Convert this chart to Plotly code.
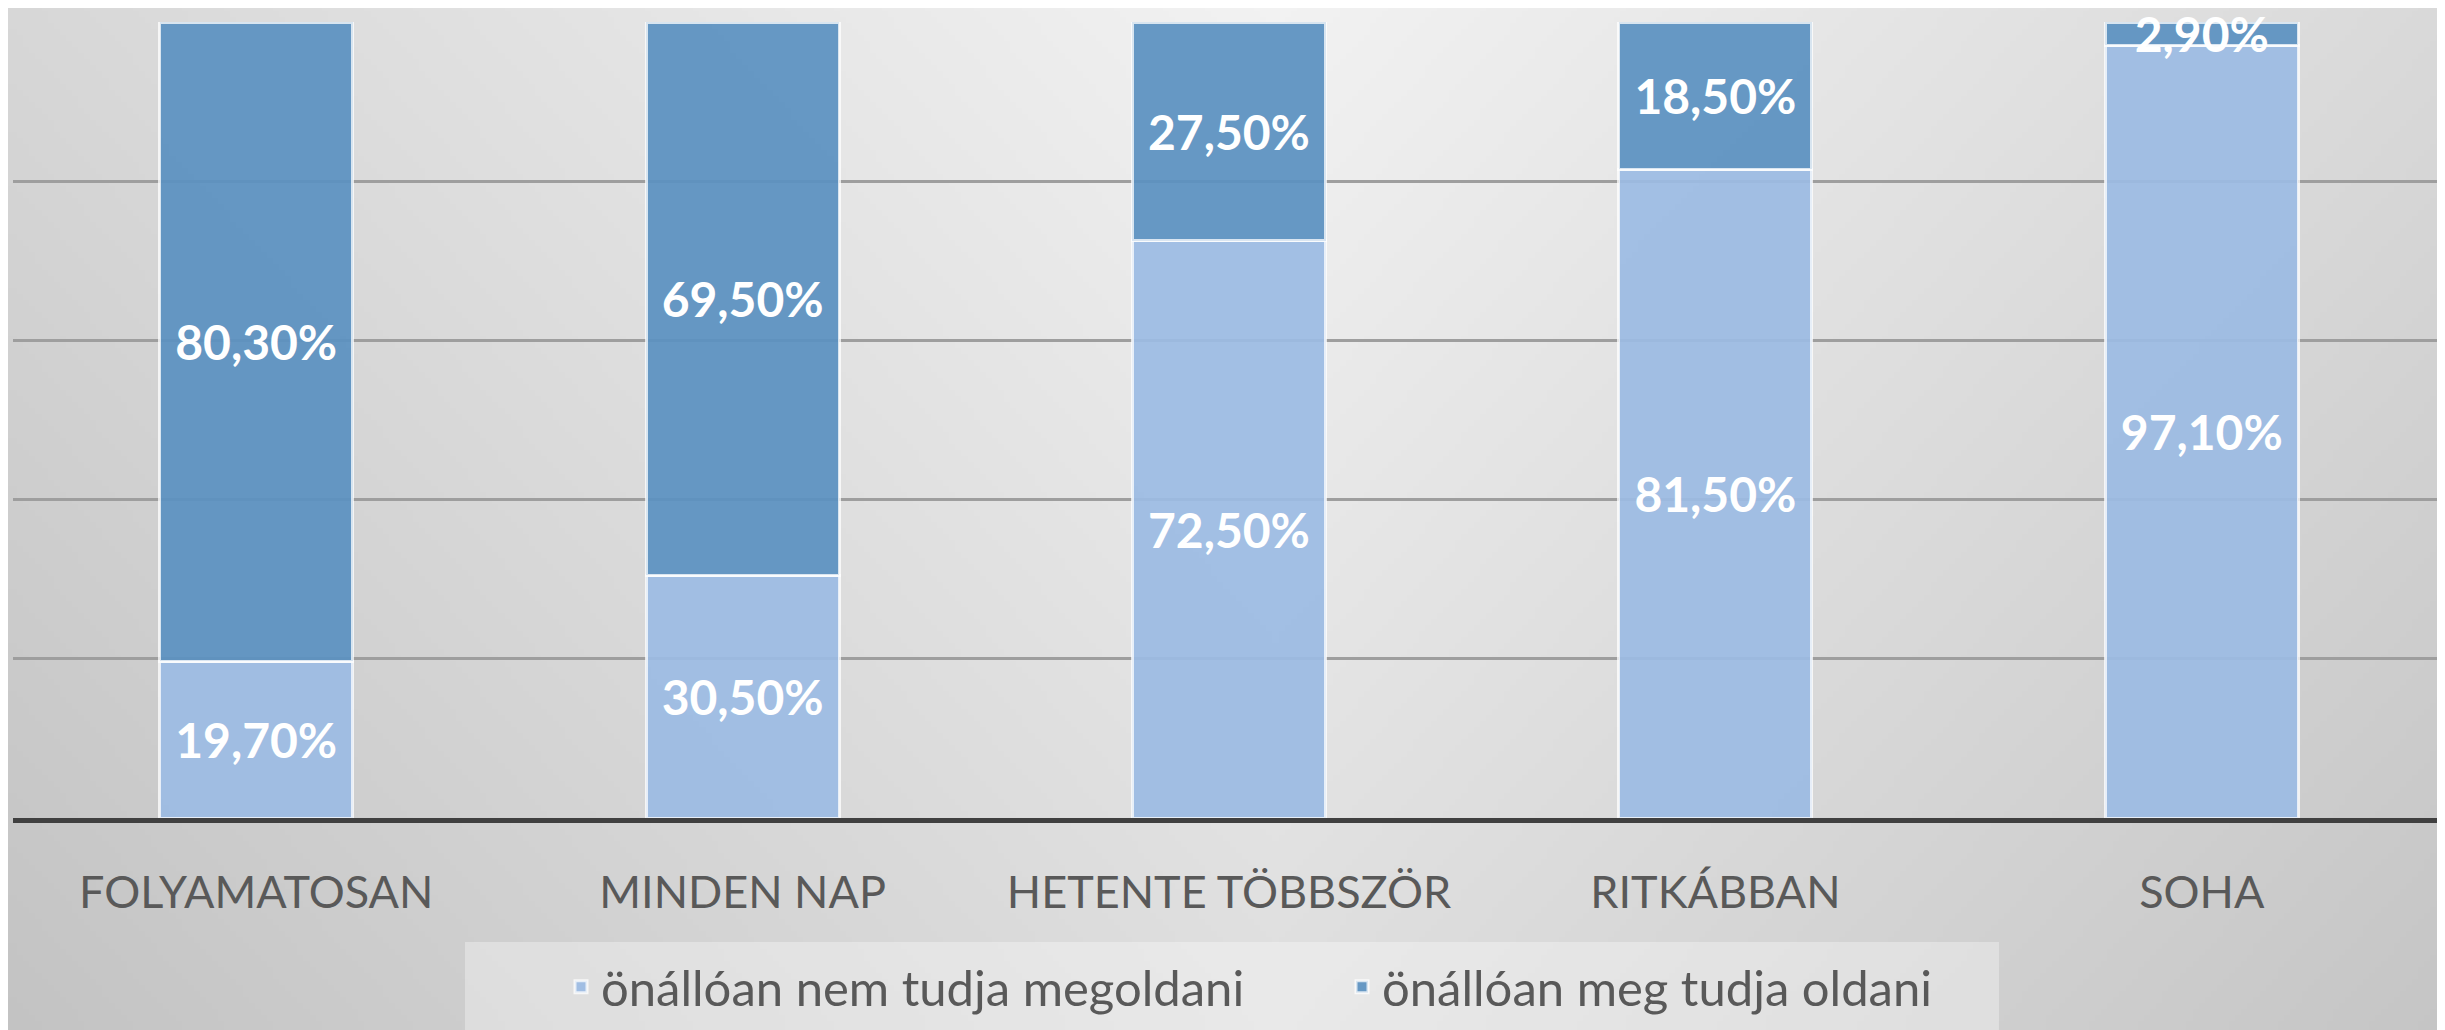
import zlib, struct, base64
import plotly.graph_objects as go

# ---- data ----
categories = ["FOLYAMATOSAN", "MINDEN NAP", "HETENTE TÖBBSZÖR", "RITKÁBBAN", "SOHA"]
nem_tudja = [19.7, 30.5, 72.5, 81.5, 97.1]
meg_tudja = [80.3, 69.5, 27.5, 18.5, 2.9]
series_names = ["önállóan nem tudja megoldani", "önállóan meg tudja oldani"]


def fmt(v):
    return f"{v:.2f}%".replace(".", ",")


# ---- background gradient (pure python png) ----
def make_png(w, h, func):
    rows = []
    for y in range(h):
        rows.append(b"\x00" + bytes(func(x, y) for x in range(w)))
    raw = b"".join(rows)

    def chunk(t, d):
        c = struct.pack(">I", len(d)) + t + d
        return c + struct.pack(">I", zlib.crc32(t + d) & 0xFFFFFFFF)

    png = (b"\x89PNG\r\n\x1a\n"
           + chunk(b"IHDR", struct.pack(">IIBBBBB", w, h, 8, 0, 0, 0, 0))
           + chunk(b"IDAT", zlib.compress(raw, 9))
           + chunk(b"IEND", b""))
    return "data:image/png;base64," + base64.b64encode(png).decode()


GW, GH = 400, 170


def grad(x, y):
    u = x / (GW - 1)
    v = y / (GH - 1)
    c = 242 - 52 * abs(u - 0.52) - 20 * v
    return max(0, min(255, int(round(c))))


bg_src = make_png(GW, GH, grad)

# page body adds an 8px offset; figure sized to fill the rest of the window
W, H = 2437, 1022
ML, MR, MT, MB = 5, 0, 14, 212
PW, PH = W - ML - MR, H - MT - MB


def py(yfig):
    return (MT + PH - yfig) / PH


def px(xfig):
    return (xfig - ML) / PW


fig = go.Figure()
fig.add_trace(go.Bar(
    x=categories, y=nem_tudja, name=series_names[0],
    text=[fmt(v) for v in nem_tudja], texttemplate="%{text}",
    textposition="inside", insidetextanchor="middle", textangle=0,
    textfont=dict(family="Lato", size=48, color="white", weight="bold"),
    marker=dict(color="rgba(156,187,227,0.93)",
                line=dict(color="rgba(255,255,255,0.75)", width=3)),
    cliponaxis=False, hoverinfo="skip",
))
fig.add_trace(go.Bar(
    x=categories, y=meg_tudja, name=series_names[1],
    text=[fmt(v) for v in meg_tudja], texttemplate="%{text}",
    textposition="inside", insidetextanchor="middle", textangle=0,
    textfont=dict(family="Lato", size=48, color="white", weight="bold"),
    marker=dict(color="rgba(91,145,193,0.93)",
                line=dict(color="rgba(255,255,255,0.75)", width=3)),
    cliponaxis=False, hoverinfo="skip",
))

fig.update_layout(
    width=W, height=H,
    barmode="stack", bargap=0.603,
    margin=dict(l=ML, r=MR, t=MT, b=MB, autoexpand=False),
    paper_bgcolor="#d6d6d6", plot_bgcolor="rgba(0,0,0,0)",
    font=dict(family="Lato", color="#595959"),
    uniformtext=dict(minsize=48, mode="show"),
    images=[dict(source=bg_src, xref="paper", yref="paper",
                 x=-ML / PW, y=1 + MT / PH, sizex=W / PW, sizey=H / PH,
                 xanchor="left", yanchor="top", sizing="stretch",
                 layer="below")],
    shapes=[dict(type="rect", xref="paper", yref="paper", layer="below",
                 x0=px(457), x1=px(1991),
                 y0=py(1040), y1=py(934),
                 fillcolor="rgba(255,255,255,0.33)", line=dict(width=0))],
    legend=dict(orientation="h", xref="paper", yref="paper",
                x=px(553), xanchor="left",
                y=py(979), yanchor="middle",
                bgcolor="rgba(0,0,0,0)",
                font=dict(size=49, color="#595959", family="Lato"),
                entrywidth=736, entrywidthmode="pixels", traceorder="normal"),
    xaxis=dict(range=[-0.5, 4.5], showgrid=False, showline=True,
               linecolor="#404040", linewidth=5, ticks="outside", ticklen=31,
               tickcolor="rgba(0,0,0,0)",
               tickfont=dict(family="Lato", size=45, color="#595959")),
    yaxis=dict(range=[0, 100], tickvals=[0, 20, 40, 60, 80, 100],
               showticklabels=False, showgrid=True, gridcolor="#9e9e9e",
               gridwidth=3, zeroline=False, showline=False),
)

fig.write_html("out.html")
